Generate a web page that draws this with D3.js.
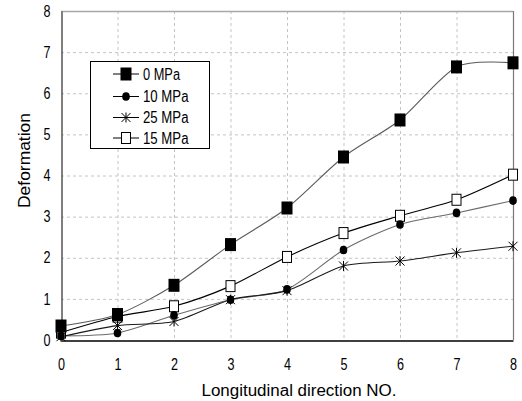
<!DOCTYPE html>
<html>
<head>
<meta charset="utf-8">
<script src="https://cdn.jsdelivr.net/npm/d3@7"></script>
<style>
  html, body { margin: 0; padding: 0; background: #fff; }
  svg { display: block; }
  text { font-family: "Liberation Sans", Arial, sans-serif; }
</style>
</head>
<body>
<svg id="chart" width="522" height="401"></svg>
<script>
// Longitudinal positions along the specimen
const positions = [0, 1, 2, 3, 4, 5, 6, 7, 8];
const xTicks = [0, 1, 2, 3, 4, 5, 6, 7, 8];
const yTicks = [0, 1, 2, 3, 4, 5, 6, 7, 8];

// Measured deformation for each confining pressure
const mpa0  = [0.34, 0.62, 1.33, 2.32, 3.21, 4.45, 5.35, 6.64, 6.74];
const mpa10 = [0.10, 0.17, 0.60, 0.98, 1.23, 2.19, 2.81, 3.09, 3.39];
const mpa25 = [0.08, 0.35, 0.45, 0.98, 1.20, 1.80, 1.92, 2.12, 2.28];
const mpa15 = [0.18, 0.57, 0.82, 1.31, 2.02, 2.60, 3.02, 3.41, 4.02];

const seriesNames = ["0 MPa", "10 MPa", "25 MPa", "15 MPa"];

const svg = d3.select("#chart");
const plotLeft = 61, plotRight = 513, plotTop = 11, plotBottom = 340;

const x = d3.scaleLinear().domain([0, 8]).range([plotLeft, plotRight]);
const y = d3.scaleLinear().domain([0, 8]).range([plotBottom, plotTop]);

// dashed grid
const grid = svg.append("g");
grid.selectAll("line.v").data(xTicks.slice(1, -1)).join("line")
  .attr("x1", d => x(d) + 0.5).attr("x2", d => x(d) + 0.5)
  .attr("y1", plotTop).attr("y2", plotBottom)
  .attr("stroke", "#c4c4c4").attr("stroke-dasharray", "3,3");
grid.selectAll("line.h").data(yTicks.slice(1, -1)).join("line")
  .attr("y1", d => y(d) + 0.5).attr("y2", d => y(d) + 0.5)
  .attr("x1", plotLeft).attr("x2", plotRight)
  .attr("stroke", "#c4c4c4").attr("stroke-dasharray", "3,3");

// frame: top/right lighter, axes darker
svg.append("line").attr("x1", plotLeft).attr("x2", plotRight).attr("y1", plotTop + 0.5).attr("y2", plotTop + 0.5)
  .attr("stroke", "#a8a8a8").attr("stroke-width", 1.5);
svg.append("line").attr("x1", plotRight + 0.5).attr("x2", plotRight + 0.5).attr("y1", plotTop).attr("y2", plotBottom)
  .attr("stroke", "#7a7a7a").attr("stroke-width", 1.2);

// narrow digits: each tick label is squeezed horizontally
function narrow(sel, w) {
  sel.attr("textLength", function () { return this.textContent.length * w; })
     .attr("lengthAdjust", "spacingAndGlyphs");
}

const xAxis = svg.append("g").attr("transform", `translate(0,${plotBottom + 0.5})`)
  .call(d3.axisBottom(x).tickValues(xTicks).tickSize(0).tickPadding(18).tickFormat(d3.format("d")));
xAxis.select(".domain").attr("stroke", "#000").attr("stroke-width", 1.3);
xAxis.selectAll("text").attr("font-size", 16).attr("fill", "#000").call(narrow, 7);

const yAxis = svg.append("g").attr("transform", `translate(${plotLeft + 0.5},0)`)
  .call(d3.axisLeft(y).tickValues(yTicks).tickSize(0).tickPadding(11).tickFormat(d3.format("d")));
yAxis.select(".domain").attr("stroke", "#555").attr("stroke-width", 1.5);
yAxis.selectAll("text").attr("font-size", 16).attr("fill", "#000").call(narrow, 7);

// axis titles
svg.append("text").attr("x", 299).attr("y", 396).attr("text-anchor", "middle")
  .attr("font-size", 16).attr("textLength", 195).attr("lengthAdjust", "spacingAndGlyphs")
  .text("Longitudinal direction NO.");
svg.append("text").attr("transform", "translate(30,160.5) rotate(-90)").attr("text-anchor", "middle")
  .attr("font-size", 16).attr("textLength", 95).attr("lengthAdjust", "spacingAndGlyphs")
  .text("Deformation");

const curve = d3.curveCardinal.tension(0.2);
const line = d3.line().x((d, i) => x(positions[i])).y(d => y(d)).curve(curve);

const styles = [
  { name: seriesNames[0], data: mpa0,  color: "#5a5a5a", marker: "bigsquare" },
  { name: seriesNames[1], data: mpa10, color: "#6a6a6a", marker: "circle" },
  { name: seriesNames[2], data: mpa25, color: "#1a1a1a", marker: "star" },
  { name: seriesNames[3], data: mpa15, color: "#000000", marker: "opensquare" }
];

function drawMarker(g, type, cx, cy) {
  if (type === "bigsquare") {
    g.append("rect").attr("x", cx - 5.5).attr("y", cy - 6.5).attr("width", 11).attr("height", 13).attr("fill", "#000");
  } else if (type === "circle") {
    g.append("ellipse").attr("cx", cx).attr("cy", cy).attr("rx", 3.8).attr("ry", 4.3).attr("fill", "#000");
  } else if (type === "opensquare") {
    g.append("rect").attr("x", cx - 4.5).attr("y", cy - 5.5).attr("width", 9).attr("height", 11)
      .attr("fill", "#fff").attr("stroke", "#000").attr("stroke-width", 1);
  } else if (type === "star") {
    const r = 4.5;
    g.append("path")
      .attr("d", `M${cx - r},${cy - r}L${cx + r},${cy + r}M${cx - r},${cy + r}L${cx + r},${cy - r}M${cx},${cy - r - 0.5}L${cx},${cy + r + 0.5}`)
      .attr("stroke", "#000").attr("stroke-width", 1).attr("fill", "none");
  }
}

// lines first, then markers on top (solid squares drawn last)
styles.forEach(s => {
  svg.append("path").attr("d", line(s.data)).attr("fill", "none")
    .attr("stroke", s.color).attr("stroke-width", 1.1);
});
styles.slice().reverse().forEach(s => {
  const g = svg.append("g");
  s.data.forEach((v, i) => drawMarker(g, s.marker, x(positions[i]), y(v)));
});

// legend
const lg = svg.append("g");
lg.append("rect").attr("x", 90.5).attr("y", 61.5).attr("width", 119).attr("height", 87)
  .attr("fill", "#fff").attr("stroke", "#000").attr("stroke-width", 1);
const rowY = [74, 96.5, 117.5, 138];
styles.forEach((s, i) => {
  const ry = rowY[i];
  lg.append("line").attr("x1", 113).attr("x2", 139).attr("y1", ry).attr("y2", ry)
    .attr("stroke", "#000").attr("stroke-width", 1);
  drawMarker(lg, s.marker, 126, ry);
  lg.append("text").attr("x", 143).attr("y", ry).attr("dy", "0.36em")
    .attr("font-size", 16)
    .attr("textLength", s.name.length === 5 ? 37 : 45.5).attr("lengthAdjust", "spacingAndGlyphs")
    .text(s.name);
});
</script>
</body>
</html>
